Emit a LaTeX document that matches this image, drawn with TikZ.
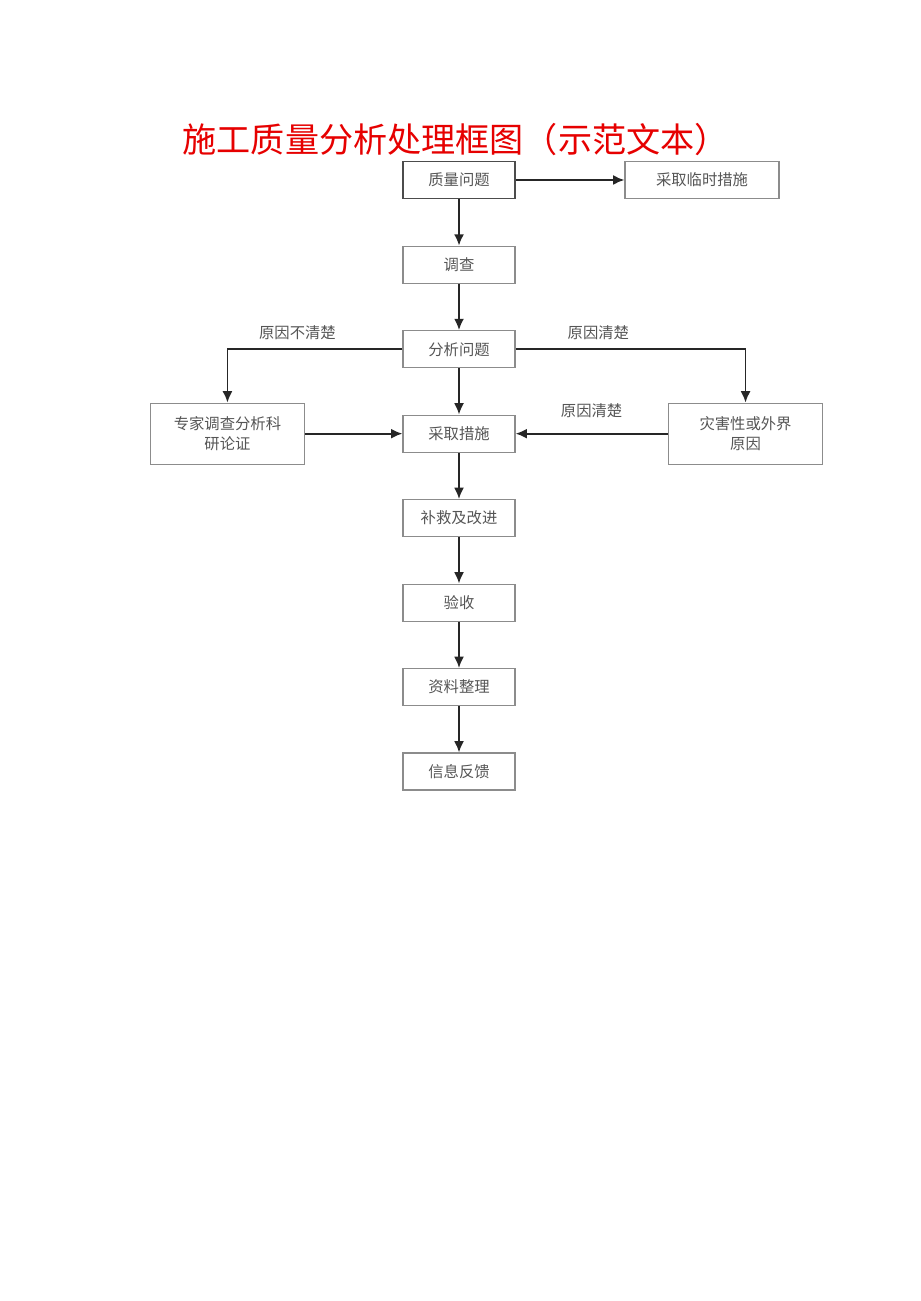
\documentclass[tikz,border=0pt]{standalone}
\usepackage{fontspec}
\newfontfamily\cjk{Noto Sans CJK SC}
\usetikzlibrary{positioning}
\usetikzlibrary{arrows.meta}
\definecolor{boxline}{RGB}{140,140,140}
\definecolor{boxtext}{RGB}{85,85,85}
\definecolor{titlered}{RGB}{230,0,0}
\tikzset{every picture/.style={line width=0.9pt},
box/.style={draw=boxline,minimum width=84pt,minimum height=27.75pt,inner sep=0pt,text=boxtext,font=\cjk\fontsize{11.5}{13}\selectfont},
bigbox/.style={box,minimum width=116pt,minimum height=45.75pt,align=center},
arr/.style={-{Latex[length=8.5pt,width=7.5pt]},line width=1.4pt,black!85},
lbl/.style={text=boxtext,font=\cjk\fontsize{11.5}{13}\selectfont}}

\begin{document}
\begin{tikzpicture}[x=0.75pt,y=-0.75pt,node distance=34.7pt]
\useasboundingbox (0,0) rectangle (920,1301);
\node (title) at (182,140) [anchor=west,inner sep=0pt,text=titlered,font=\cjk\fontsize{25.6}{30}\selectfont] {施工质量分析处理框图（示范文本）};
\node (q) at (459,180) [box,draw=black!70,line width=1.3pt] {质量问题};
\node (tmp) at (702,180) [box,minimum width=115.5pt] {采取临时措施};
\node (dc) [box,below=of q] {调查};
\node (fx) [box,below=of dc] {分析问题};
\node (cs) [box,below=of fx] {采取措施};
\node (bj) [box,below=of cs] {补救及改进};
\node (ys) [box,below=of bj] {验收};
\node (zl) [box,below=of ys] {资料整理};
\node (xx) [box,below=of zl] {信息反馈};
\node (zj) [bigbox,left=72.75pt of cs] {专家调查分析科\\[2pt]研论证};
\node (zh) [bigbox,right=114pt of cs] {灾害性或外界\\[2pt]原因};

\draw[arr] (q) -- (tmp);
\foreach \a/\b in {q/dc, dc/fx, fx/cs, cs/bj, bj/ys, ys/zl, zl/xx} {
\draw[arr] (\a) -- (\b);
}
\draw[arr] (fx) -| node [lbl,above=3pt,pos=0.3] {原因不清楚} (zj);
\draw[arr] (fx) -| node [lbl,above=3pt,pos=0.18] {原因清楚} (zh);
\draw[arr] (zj) -- (cs);
\draw[arr] (zh) -- node [lbl,above=8pt] {原因清楚} (cs);
\end{tikzpicture}
\end{document}
